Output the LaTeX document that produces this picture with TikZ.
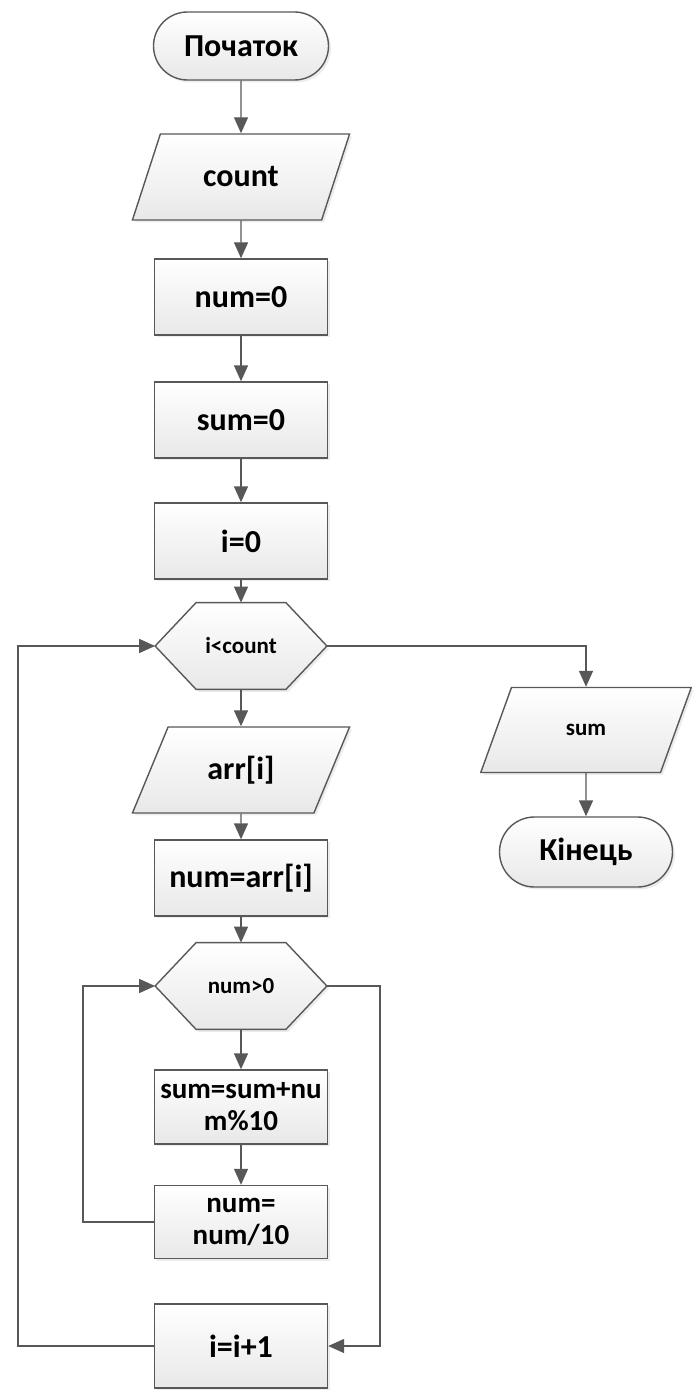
\documentclass[tikz,border=0pt]{standalone}
\usepackage{fontspec}
\setmainfont{Carlito}
\usetikzlibrary{
  positioning,
  arrows.meta,
  shapes.geometric,
  shadows,
  backgrounds
}
\definecolor{linegray}{RGB}{88,88,88}
\definecolor{boxbot}{RGB}{232,232,232}

\begin{document}
\begin{tikzpicture}[
  x=0.5pt, y=-0.5pt,
  >={Triangle[length=8pt,width=7pt]},
  base/.style={draw=linegray, line width=0.7pt, top color=white, bottom color=boxbot,
               drop shadow={shadow xshift=1.2pt, shadow yshift=-1.2pt, opacity=0.15},
               font=\bfseries\fontsize{16}{19}\selectfont, align=center, inner sep=2pt},
  proc/.style={base, rectangle, minimum width=86.5pt, minimum height=38pt},
  term/.style={base, rectangle, rounded corners=17pt, minimum width=87.5pt, minimum height=34pt},
  io/.style={base, trapezium, trapezium left angle=63, trapezium right angle=117,
             trapezium stretches, minimum width=109pt, minimum height=43pt},
  decision/.style={minimum width=85.5pt, minimum height=43pt, inner sep=0pt,
                   font=\bfseries\fontsize{11.5}{14}\selectfont},
  hexline/.style={draw=linegray, line width=0.7pt, top color=white, bottom color=boxbot,
                  drop shadow={shadow xshift=1.2pt, shadow yshift=-1.2pt, opacity=0.15}},
  twoline/.style={font=\bfseries\fontsize{14.5}{16}\selectfont},
  arr/.style={->, line width=0.7pt, linegray},
]
\useasboundingbox (0,0) rectangle (693,1390);

% main column
\node[term] (start) at (241,46) {Початок};
\node[io] (count) at (241,177) {count};
\node[proc] (numzero) at (241,297) {num=0};
\node[proc] (sumzero) at (241,420) {sum=0};
\node[proc] (izero) at (241,541) {i=0};
\node[decision] (cond) at (241,646) {i<count};
\node[io] (arr) at (241,770) {arr[i]};
\node[proc] (numarr) at (241,878) {num=arr[i]};
\node[decision] (inner) at (241,986) {num>0};
\node[proc, twoline, minimum height=37pt] (sumadd) at (241,1107) {sum=sum+nu\\m\%10};
\node[proc, twoline, minimum height=36.5pt] (numdiv) at (241,1222) {num=\\num/10};
\node[proc, minimum height=42pt] (incr) at (241,1346) {i=i+1};

% exit branch
\node[io, font=\bfseries\fontsize{11.5}{14}\selectfont,
      minimum width=105.5pt, minimum height=42.5pt] (out) at (586,730) {sum};
\node[term, minimum width=86.5pt, minimum height=35pt, rounded corners=17.5pt] (stop) at (586,852) {Кінець};

% hexagons behind the condition texts
\begin{scope}[on background layer]
  \foreach \h in {cond,inner}
    \draw[hexline] ([xshift=20.5pt]\h.north west) -- ([xshift=-20.5pt]\h.north east) -- (\h.east)
      -- ([xshift=-20.5pt]\h.south east) -- ([xshift=20.5pt]\h.south west) -- (\h.west) -- cycle;
\end{scope}

\foreach \a/\b in {start/count, count/numzero, numzero/sumzero, sumzero/izero, izero/cond,
                   cond/arr, arr/numarr, numarr/inner, inner/sumadd, sumadd/numdiv, out/stop}
  \draw[arr] (\a) -- (\b);

% loops
\coordinate (outerx) at (18,0);
\coordinate (innerx) at (83,0);
\coordinate (rightx) at (380,0);
\draw[arr] (incr.west) -- (incr.west -| outerx) |- (cond.west);
\draw[arr] (numdiv.west) -- (numdiv.west -| innerx) |- (inner.west);
\draw[arr] (inner.east) -- (inner.east -| rightx) |- (incr.east);
\draw[arr] (cond.east) -| (out.north);

\end{tikzpicture}
\end{document}
